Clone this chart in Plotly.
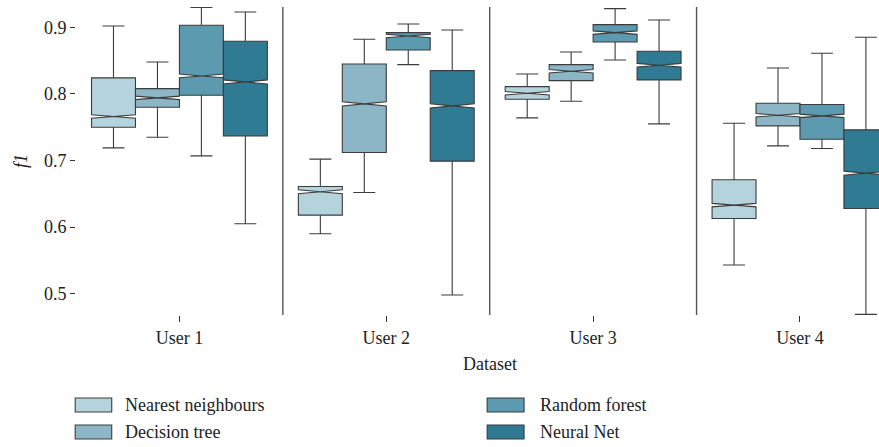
import plotly.graph_objects as go

# Datasets (one group per user) and classifiers (one box per classifier)
datasets = ["User 1", "User 2", "User 3", "User 4"]
methods = ["Nearest neighbours", "Decision tree", "Random forest", "Neural Net"]
colors = ["#b4d3dd", "#8cb5c5", "#5c9ab0", "#2f7b94"]

# f1 summary statistics per classifier, ordered by dataset
upper_nn = [0.902, 0.702, 0.830, 0.756]
q3_nn = [0.824, 0.661, 0.811, 0.671]
med_nn = [0.766, 0.653, 0.801, 0.633]
q1_nn = [0.750, 0.618, 0.792, 0.613]
lower_nn = [0.719, 0.590, 0.764, 0.543]

upper_dt = [0.848, 0.882, 0.863, 0.839]
q3_dt = [0.808, 0.845, 0.844, 0.786]
med_dt = [0.794, 0.785, 0.834, 0.768]
q1_dt = [0.780, 0.712, 0.820, 0.752]
lower_dt = [0.735, 0.652, 0.789, 0.722]

upper_rf = [0.930, 0.905, 0.928, 0.861]
q3_rf = [0.903, 0.892, 0.904, 0.784]
med_rf = [0.827, 0.887, 0.892, 0.767]
q1_rf = [0.798, 0.866, 0.878, 0.732]
lower_rf = [0.707, 0.844, 0.851, 0.718]

upper_net = [0.923, 0.896, 0.911, 0.885]
q3_net = [0.879, 0.835, 0.864, 0.746]
med_net = [0.818, 0.782, 0.843, 0.681]
q1_net = [0.737, 0.699, 0.821, 0.628]
lower_net = [0.605, 0.498, 0.755, 0.469]

notch_nn = [0.0026, 0.003, 0.0026, 0.0026]
notch_dt = [0.0026, 0.0032, 0.0026, 0.0026]
notch_rf = [0.0028, 0.0026, 0.0026, 0.0026]
notch_net = [0.003, 0.0032, 0.0028, 0.003]

stats = [
    (q1_nn, med_nn, q3_nn, lower_nn, upper_nn, notch_nn),
    (q1_dt, med_dt, q3_dt, lower_dt, upper_dt, notch_dt),
    (q1_rf, med_rf, q3_rf, lower_rf, upper_rf, notch_rf),
    (q1_net, med_net, q3_net, lower_net, upper_net, notch_net),
]

FONT = "Liberation Serif"

fig = go.Figure()
for name, color, (q1, med, q3, lo, hi, notch) in zip(methods, colors, stats):
    fig.add_trace(go.Box(
        name=name,
        x=datasets,
        q1=q1, median=med, q3=q3,
        lowerfence=lo, upperfence=hi,
        notched=True, notchspan=notch, notchwidth=0.5,
        whiskerwidth=0.5,
        fillcolor=color,
        line=dict(color="#3c3c3c", width=1.1),
        showlegend=False,
        hoverinfo="skip",
    ))

# Vertical separators between datasets
for b in [0.5, 1.5, 2.5]:
    fig.add_shape(type="line", xref="x", yref="paper", x0=b, x1=b, y0=0, y1=1,
                  line=dict(color="#555555", width=1.4))

# Legend: two columns of colour swatches with labels
legend_cols = [(-0.001, 0.0445, 0.0585), (0.512, 0.558, 0.575)]
legend_rows = [-0.292, -0.380]
half_h = 0.0227
for i, (name, color) in enumerate(zip(methods, colors)):
    col = legend_cols[i // 2]
    yrow = legend_rows[i % 2]
    fig.add_shape(type="rect", xref="paper", yref="paper",
                  x0=col[0], x1=col[1], y0=yrow - half_h, y1=yrow + half_h,
                  fillcolor=color, line=dict(color="#3c3c3c", width=1.1))
    fig.add_annotation(text=name, xref="paper", yref="paper", x=col[2], y=yrow,
                       xanchor="left", yanchor="middle", showarrow=False,
                       font=dict(family=FONT, size=18, color="#222222"))

# Axis title for the dataset axis, centred on the full category span
fig.add_annotation(text="Dataset", xref="paper", yref="paper", x=0.515, y=-0.159,
                   xanchor="center", yanchor="middle", showarrow=False,
                   font=dict(family=FONT, size=18, color="#222222"))

fig.update_layout(
    width=879, height=447,
    margin=dict(l=76, r=0, t=7, b=132),
    paper_bgcolor="white", plot_bgcolor="white",
    boxmode="group", boxgap=0.15, boxgroupgap=0,
    font=dict(family=FONT, size=18, color="#222222"),
    showlegend=False,
)
fig.update_xaxes(
    type="category", range=[-0.5, 3.382],
    showgrid=False, showline=False, zeroline=False,
    ticks="outside", ticklen=6, tickcolor="#333333", tickwidth=1,
    tickfont=dict(family=FONT, size=18),
)
fig.update_yaxes(
    range=[0.468, 0.9305],
    tickvals=[0.5, 0.6, 0.7, 0.8, 0.9], ticktext=["0.5", "0.6", "0.7", "0.8", "0.9"],
    showgrid=False, showline=False, zeroline=False,
    ticks="outside", ticklen=5, tickcolor="#333333", tickwidth=1,
    tickfont=dict(family=FONT, size=18),
    title=dict(text="<i>f1</i>", font=dict(family=FONT, size=18), standoff=11),
)

fig.write_html("out.html")
